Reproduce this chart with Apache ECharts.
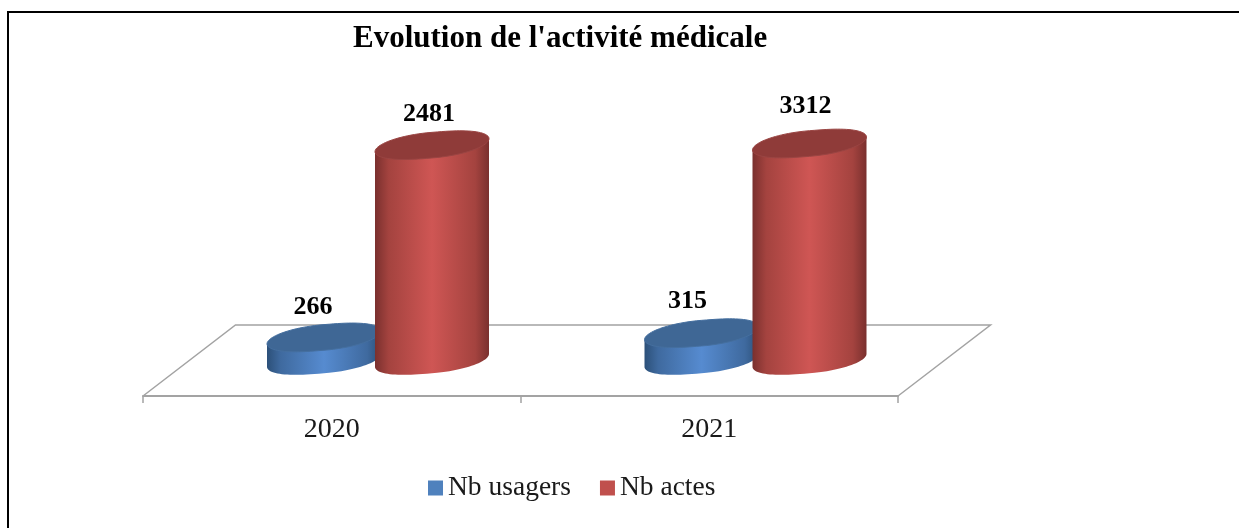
<!DOCTYPE html>
<html>
<head>
<meta charset="utf-8">
<style>html,body{margin:0;padding:0;background:#fff}#c{width:1239px;height:528px}</style>
<script src="https://cdn.jsdelivr.net/npm/echarts@6/dist/echarts.min.js"></script>
</head>
<body>
<div id="c"></div>
<script>
var categories = ['2020', '2021'];
var nbUsagers = [266, 315];
var nbActes = [2481, 3312];
var titleText = "Evolution de l'activité médicale";

var FONT = '"Liberation Serif", serif';
var AXIS_MAX = 2500; // value axis of the source stops here: taller columns are cut at it
var DEPTH = [92.5, 71];
var RX = 57, TILT = 6.5, RY = 12.8;

var chart = echarts.init(document.getElementById('c'), null, {renderer: 'canvas'});

function ellipsePt(cx, cy, t) {
  var c = Math.cos(t), s = Math.sin(t);
  var blunt = (c < 0 ? -1 : 1) * Math.pow(Math.abs(c), 0.88);
  return [cx + RX * blunt, cy - TILT * c + RY * s];
}

function cylinder(shift, look, labelShift) {
  return function (params, api) {
    var cat = api.value(0), val = api.value(1);
    var base = api.coord([cat, 0]);
    var top = api.coord([cat, Math.min(val, AXIS_MAX)]);
    var cx = base[0] + DEPTH[0] / 2 + shift;
    var by = base[1] - DEPTH[1] / 2;
    var ty = top[1] - DEPTH[1] / 2;
    var body = [[cx - RX, ty + TILT]];
    var lid = [];
    for (var i = 0; i <= 48; i++) {
      body.push(ellipsePt(cx, by, Math.PI - Math.PI * i / 48));
    }
    body.push([cx + RX, ty - TILT]);
    for (var j = 0; j < 96; j++) {
      lid.push(ellipsePt(cx, ty, 2 * Math.PI * j / 96));
    }
    var ls = labelShift[params.dataIndex];
    return {
      type: 'group',
      children: [
        {type: 'polygon', shape: {points: body}, style: {
          fill: {type: 'linear', x: 0, y: 0, x2: 1, y2: 0, colorStops: [
            {offset: 0, color: look.edge}, {offset: 0.12, color: look.mid},
            {offset: 0.5, color: look.light},
            {offset: 0.88, color: look.mid}, {offset: 1, color: look.edge}
          ]}
        }},
        {type: 'polygon', shape: {points: lid}, style: {fill: look.lid, stroke: look.rim, lineWidth: 1}},
        {type: 'text', style: {
          text: String(val), x: cx + ls[0], y: ty + ls[1],
          align: 'center', verticalAlign: 'middle',
          font: 'bold 26px ' + FONT, fill: '#000'
        }}
      ]
    };
  };
}

function floor(params) {
  var c = params.coordSys;
  var y0 = c.y + c.height, x0 = c.x, x1 = c.x + c.width;
  return {
    type: 'polyline',
    shape: {points: [[x0, y0], [x0 + DEPTH[0], y0 - DEPTH[1]], [x1 + DEPTH[0], y0 - DEPTH[1]], [x1, y0]]},
    style: {stroke: '#a3a3a3', lineWidth: 1.5, fill: null}
  };
}

function pairs(arr) {
  return arr.map(function (v, i) { return [i, v]; });
}

chart.setOption({
  animation: false,
  backgroundColor: '#fff',
  title: {
    text: titleText, left: 348, top: 18,
    textStyle: {fontFamily: FONT, fontSize: 31, fontWeight: 'bold', color: '#000'}
  },
  legend: {
    left: 423, top: 469, itemWidth: 15, itemHeight: 15, itemGap: 29,
    icon: 'rect',
    textStyle: {fontFamily: FONT, fontSize: 27.5, color: '#1a1a1a'},
    data: [
      {name: 'Nb usagers', itemStyle: {color: '#4f81bd'}},
      {name: 'Nb actes', itemStyle: {color: '#c0504d'}}
    ]
  },
  grid: {left: 143, right: 341, top: 179, bottom: 132},
  xAxis: {
    type: 'category', data: categories, boundaryGap: true,
    axisLine: {lineStyle: {color: '#a3a3a3', width: 2}},
    axisTick: {show: true, length: 7, lineStyle: {color: '#a3a3a3', width: 1.5}},
    axisLabel: {fontFamily: FONT, fontSize: 28, color: '#1a1a1a', margin: 20}
  },
  yAxis: {type: 'value', min: 0, max: AXIS_MAX, show: false, splitLine: {show: false}},
  graphic: [{
    type: 'polyline', silent: true,
    shape: {points: [[8, 528], [8, 12], [1239, 12]]},
    style: {stroke: '#000', lineWidth: 2, fill: null}
  }],
  series: [
    {type: 'custom', name: 'floor', silent: true, clip: false, data: [0], renderItem: floor,
     encode: {x: 0, y: 0}, z: 1},
    {type: 'custom', name: 'Nb usagers', clip: false, z: 2, itemStyle: {color: '#4f81bd'},
     data: pairs(nbUsagers), encode: {x: 0, y: 1},
     renderItem: cylinder(-54, {edge: '#2c5079', mid: '#3f6a9f', light: '#568bd0', lid: '#3f6795', rim: '#456f9f'},
       [[-11, -30], [-14, -32]])},
    {type: 'custom', name: 'Nb actes', clip: false, z: 3, itemStyle: {color: '#c0504d'},
     data: pairs(nbActes), encode: {x: 0, y: 1},
     renderItem: cylinder(54, {edge: '#7a302e', mid: '#a4433f', light: '#cf5654', lid: '#8f3b39', rim: '#9a4543'},
       [[-3, -31], [-4, -37]])}
  ]
});
</script>
</body>
</html>
